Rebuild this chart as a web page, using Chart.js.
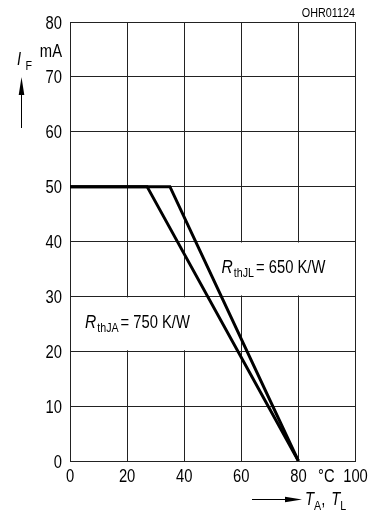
<!DOCTYPE html>
<html lang="en">
<head>
    <meta charset="UTF-8">
    <title>IF vs TA, TL</title>
    <style>
        html, body { margin: 0; padding: 0; background: #fff; }
        .chart-box { width: 375px; height: 514px; position: relative; }
    </style>
</head>
<body>
    <div class="chart-box">
        <canvas id="chart"></canvas>
    </div>

    <script src="https://cdn.jsdelivr.net/npm/chart.js"></script>
    <script>
        // data
        const tempJA = [0, 27, 80];
        const currentJA = [50, 50, 0];
        const tempJL = [0, 35, 80];
        const currentJL = [50, 50, 0];
        const xTicks = [0, 20, 40, 60, 80, 100];
        const yTicks = [0, 10, 20, 30, 40, 50, 60, 70, 80];

        const FONT = "'Liberation Sans', Arial, sans-serif";
        const SQUEEZE = 0.82;   // fake a narrow face, none is installed

        function toPoints(xs, ys) {
            return xs.map((x, i) => ({ x: x, y: ys[i] }));
        }

        // draws squeezed text, returns its width
        function txt(ctx, s, x, y, size, opts) {
            opts = opts || {};
            const sq = opts.sq || SQUEEZE;
            ctx.font = (opts.italic ? 'italic ' : '') + size + 'px ' + FONT;
            ctx.textAlign = opts.align || 'left';
            ctx.textBaseline = opts.base || 'alphabetic';
            ctx.save();
            ctx.translate(x, y);
            ctx.scale(sq, 1);
            ctx.fillText(s, 0, 0);
            ctx.restore();
            return ctx.measureText(s).width * sq;
        }

        const extras = {
            id: 'extras',
            beforeDatasetsDraw(chart) {
                const { ctx, scales: { x, y } } = chart;
                ctx.save();
                ctx.fillStyle = '#fff';
                // R thJL box: between 40 and 30
                ctx.fillRect(x.getPixelForValue(46), y.getPixelForValue(40) + 1,
                    x.getPixelForValue(100) - x.getPixelForValue(46) - 1,
                    y.getPixelForValue(30) - y.getPixelForValue(40) - 2);
                // R thJA box: between 30 and 20
                ctx.fillRect(x.getPixelForValue(0) + 1, y.getPixelForValue(30) + 1,
                    x.getPixelForValue(45) - x.getPixelForValue(0),
                    y.getPixelForValue(20) - y.getPixelForValue(30) - 2);
                ctx.restore();
            },
            afterDraw(chart) {
                const { ctx, scales: { x, y } } = chart;
                ctx.save();
                ctx.fillStyle = '#000';
                ctx.strokeStyle = '#000';

                // tick labels from the scales
                y.ticks.forEach(t => {
                    txt(ctx, String(t.value), x.left - 8, y.getPixelForValue(t.value) + 6.5, 18, { align: 'right' });
                });
                x.ticks.forEach(t => {
                    txt(ctx, String(t.value), x.getPixelForValue(t.value), y.bottom + 21, 18, { align: 'center' });
                });

                function label(px, py, sub, rest) {
                    let cx = px;
                    cx += txt(ctx, 'R', cx, py, 19, { italic: true }) + 1;
                    cx += txt(ctx, sub, cx, py + 4, 13) + 2;
                    txt(ctx, rest, cx, py, 18);
                }
                label(x.getPixelForValue(53.1), y.getPixelForValue(34.3), 'thJL', '= 650 K/W');
                label(x.getPixelForValue(5.25), y.getPixelForValue(24.2), 'thJA', '= 750 K/W');

                // units
                txt(ctx, 'mA', 62, 57, 18, { align: 'right' });
                txt(ctx, '°C', 318, y.bottom + 21, 18);

                // code at top right
                txt(ctx, 'OHR01124', 355, 17, 12, { align: 'right', sq: 0.9 });

                // I_F with arrow up
                txt(ctx, 'I', 17, 65, 18, { italic: true });
                txt(ctx, 'F', 25.5, 70, 13);
                ctx.lineWidth = 1;
                ctx.beginPath();
                ctx.moveTo(21.5, 128);
                ctx.lineTo(21.5, 92);
                ctx.stroke();
                ctx.beginPath();
                ctx.moveTo(21.5, 77);
                ctx.lineTo(24.3, 95);
                ctx.lineTo(18.7, 95);
                ctx.closePath();
                ctx.fill();

                // T_A, T_L with arrow right
                ctx.beginPath();
                ctx.moveTo(252, 499.5);
                ctx.lineTo(288, 499.5);
                ctx.stroke();
                ctx.beginPath();
                ctx.moveTo(302, 499.5);
                ctx.lineTo(285, 496.8);
                ctx.lineTo(285, 502.2);
                ctx.closePath();
                ctx.fill();

                let tx = 305;
                tx += txt(ctx, 'T', tx, 505, 18, { italic: true });
                tx += txt(ctx, 'A', tx, 510, 13);
                tx += txt(ctx, ', ', tx, 505, 18) + 2;
                tx += txt(ctx, 'T', tx, 505, 18, { italic: true });
                txt(ctx, 'L', tx, 510, 13);

                ctx.restore();
            }
        };

        const ctx = document.getElementById('chart').getContext('2d');
        const chart = new Chart(ctx, {
            type: 'line',
            data: {
                datasets: [
                    {
                        label: 'RthJA = 750 K/W',
                        data: toPoints(tempJA, currentJA),
                        borderColor: '#000',
                        borderWidth: 3,
                        pointRadius: 0,
                        tension: 0,
                        fill: false
                    },
                    {
                        label: 'RthJL = 650 K/W',
                        data: toPoints(tempJL, currentJL),
                        borderColor: '#000',
                        borderWidth: 3,
                        pointRadius: 0,
                        tension: 0,
                        fill: false
                    }
                ]
            },
            options: {
                responsive: true,
                maintainAspectRatio: false,
                animation: false,
                devicePixelRatio: 1,
                layout: { padding: { top: 22, right: 19.5, left: 0, bottom: 0 } },
                plugins: {
                    legend: { display: false },
                    tooltip: { enabled: false }
                },
                scales: {
                    x: {
                        type: 'linear',
                        min: 0,
                        max: 100,
                        afterBuildTicks: s => { s.ticks = xTicks.map(v => ({ value: v })); },
                        afterFit: s => { s.height = 53; },
                        grid: { color: '#222', lineWidth: 1, drawTicks: false },
                        border: { color: '#222', width: 1 },
                        ticks: { display: false }
                    },
                    y: {
                        type: 'linear',
                        min: 0,
                        max: 80,
                        afterBuildTicks: s => { s.ticks = yTicks.map(v => ({ value: v })); },
                        afterFit: s => { s.width = 70; },
                        grid: { color: '#222', lineWidth: 1, drawTicks: false },
                        border: { color: '#222', width: 1 },
                        ticks: { display: false }
                    }
                }
            },
            plugins: [extras]
        });
    </script>
</body>
</html>
